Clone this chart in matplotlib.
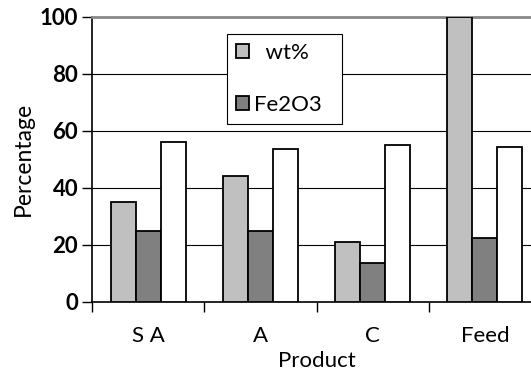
import matplotlib
matplotlib.use("Agg")
import matplotlib.pyplot as plt
import numpy as np

categories = ["S A", "A", "C", "Feed"]
wt_pct = [35, 44, 21, 100]
fe2o3 = [25, 25, 13.5, 22.5]
third = [56, 53.5, 55, 54.5]
yticks = [0, 20, 40, 60, 80, 100]

plt.rcParams['font.family'] = ['Lato', 'DejaVu Sans']

fig = plt.figure(figsize=(5.31, 3.74), dpi=100)
ax = fig.add_axes([92/531, 72/374, 449/531, (302-16.7)/374])

x = np.arange(len(categories))
w = 0.222
ax.bar(x - w, wt_pct, w, color="#C0C0C0", edgecolor="black", linewidth=1.3, label="  wt%", zorder=3)
ax.bar(x, fe2o3, w, color="#808080", edgecolor="black", linewidth=1.3, label="Fe2O3  ", zorder=3)
ax.bar(x + w, third, w, color="white", edgecolor="black", linewidth=1.3, zorder=3)

ax.set_xlim(-0.5, len(categories) - 0.5)
ax.set_ylim(0, 100)
ax.set_yticks(yticks)
ax.set_yticklabels([str(v) for v in yticks], fontsize=16, fontweight='bold')
ax.set_xticks(x)
ax.set_xticklabels(categories, fontsize=16)
ax.set_xticks(np.arange(-0.5, len(categories), 1.0), minor=True)
ax.tick_params(axis='x', which='major', length=0, pad=17)
ax.tick_params(axis='x', which='minor', length=7, width=1, direction='out')
ax.tick_params(axis='y', length=7, width=1, direction='out', pad=3)

for v in yticks[1:-1]:
    ax.axhline(v, color='black', linewidth=0.8, zorder=1)

ax.spines['right'].set_visible(False)
ax.spines['top'].set_color('#888888')
ax.spines['top'].set_linewidth(2)
ax.spines['left'].set_linewidth(1.2)
ax.spines['bottom'].set_linewidth(1.2)

ax.set_ylabel("Percentage", fontsize=16.5, labelpad=4)
ax.set_xlabel("Product", fontsize=16, labelpad=4)

leg = ax.legend(loc='upper left', bbox_to_anchor=(227/531, 1 - 34/374), bbox_transform=fig.transFigure,
                fontsize=16, frameon=True, fancybox=False, edgecolor='black', framealpha=1,
                handlelength=0.6, handleheight=0.6, labelspacing=1.45, borderpad=0.4,
                handletextpad=0.2, borderaxespad=0)
leg.get_frame().set_linewidth(0.8)
leg.set_zorder(5)

fig.savefig("out.png", dpi=100)
